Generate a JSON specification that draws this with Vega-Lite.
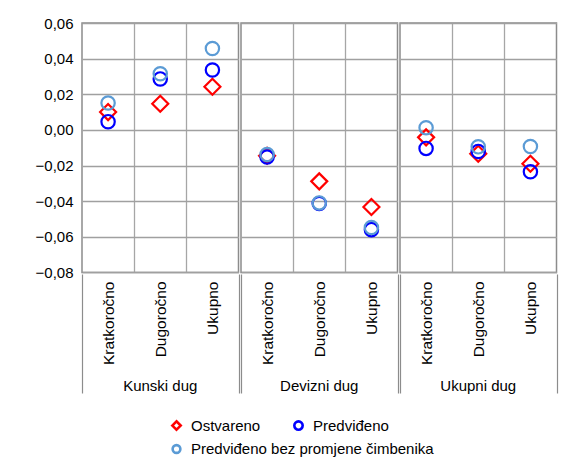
{
  "$schema": "https://vega.github.io/schema/vega-lite/v6.json",
  "padding": {"left": 35, "top": 16, "right": 5, "bottom": 5},
  "data": {
    "values": [
      {"group": "Kunski dug", "cat": "Kratkoročno", "series": "Ostvareno", "value": 0.010},
      {"group": "Kunski dug", "cat": "Dugoročno", "series": "Ostvareno", "value": 0.0147},
      {"group": "Kunski dug", "cat": "Ukupno", "series": "Ostvareno", "value": 0.0242},
      {"group": "Devizni dug", "cat": "Kratkoročno", "series": "Ostvareno", "value": -0.0145},
      {"group": "Devizni dug", "cat": "Dugoročno", "series": "Ostvareno", "value": -0.0289},
      {"group": "Devizni dug", "cat": "Ukupno", "series": "Ostvareno", "value": -0.0433},
      {"group": "Ukupni dug", "cat": "Kratkoročno", "series": "Ostvareno", "value": -0.0042},
      {"group": "Ukupni dug", "cat": "Dugoročno", "series": "Ostvareno", "value": -0.0134},
      {"group": "Ukupni dug", "cat": "Ukupno", "series": "Ostvareno", "value": -0.019},
      {"group": "Kunski dug", "cat": "Kratkoročno", "series": "Predviđeno", "value": 0.0046},
      {"group": "Kunski dug", "cat": "Dugoročno", "series": "Predviđeno", "value": 0.0286},
      {"group": "Kunski dug", "cat": "Ukupno", "series": "Predviđeno", "value": 0.0336},
      {"group": "Devizni dug", "cat": "Kratkoročno", "series": "Predviđeno", "value": -0.0152},
      {"group": "Devizni dug", "cat": "Dugoročno", "series": "Predviđeno", "value": -0.0413},
      {"group": "Devizni dug", "cat": "Ukupno", "series": "Predviđeno", "value": -0.056},
      {"group": "Ukupni dug", "cat": "Kratkoročno", "series": "Predviđeno", "value": -0.0104},
      {"group": "Ukupni dug", "cat": "Dugoročno", "series": "Predviđeno", "value": -0.0121},
      {"group": "Ukupni dug", "cat": "Ukupno", "series": "Predviđeno", "value": -0.0235},
      {"group": "Kunski dug", "cat": "Kratkoročno", "series": "Predviđeno bez promjene čimbenika", "value": 0.0151},
      {"group": "Kunski dug", "cat": "Dugoročno", "series": "Predviđeno bez promjene čimbenika", "value": 0.0315},
      {"group": "Kunski dug", "cat": "Ukupno", "series": "Predviđeno bez promjene čimbenika", "value": 0.0457},
      {"group": "Devizni dug", "cat": "Kratkoročno", "series": "Predviđeno bez promjene čimbenika", "value": -0.0138},
      {"group": "Devizni dug", "cat": "Dugoročno", "series": "Predviđeno bez promjene čimbenika", "value": -0.041},
      {"group": "Devizni dug", "cat": "Ukupno", "series": "Predviđeno bez promjene čimbenika", "value": -0.0548},
      {"group": "Ukupni dug", "cat": "Kratkoročno", "series": "Predviđeno bez promjene čimbenika", "value": 0.0012},
      {"group": "Ukupni dug", "cat": "Dugoročno", "series": "Predviđeno bez promjene čimbenika", "value": -0.0095},
      {"group": "Ukupni dug", "cat": "Ukupno", "series": "Predviđeno bez promjene čimbenika", "value": -0.0093}
    ]
  },
  "facet": {
    "column": {
      "field": "group",
      "type": "nominal",
      "sort": ["Kunski dug", "Devizni dug", "Ukupni dug"],
      "header": {
        "title": null,
        "labelOrient": "bottom",
        "labelFontSize": 15,
        "labelFont": "Liberation Sans",
        "labelColor": "#000000",
        "labelPadding": -15
      }
    }
  },
  "spacing": 0,
  "spec": {
    "width": 156.5,
    "height": 249.4,
    "encoding": {
      "x": {
        "field": "cat",
        "type": "nominal",
        "sort": ["Kratkoročno", "Dugoročno", "Ukupno"],
        "scale": {"paddingInner": 0, "paddingOuter": 0},
        "axis": {
          "title": null,
          "labelAngle": -90,
          "labelAlign": "right",
          "labelBaseline": "middle",
          "labelPadding": -112,
          "labelFontSize": 15.5,
          "labelFont": "Liberation Sans",
          "labelColor": "#000000",
          "domain": false,
          "ticks": true,
          "tickSize": 119,
          "tickBand": "extent",
          "tickColor": "#8c8c8c",
          "tickWidth": 1.2,
          "tickOpacity": {"condition": {"test": "datum.value === 'Kratkoročno' || datum.value === 'Dugoročno'", "value": 0}, "value": 1},
          "grid": true,
          "gridColor": "#a6a6a6",
          "gridWidth": 1.3,
          "gridOpacity": {"condition": {"test": "datum.value === 'Kratkoročno' || datum.value === 'Dugoročno'", "value": 1}, "value": 0}
        }
      },
      "y": {
        "field": "value",
        "type": "quantitative",
        "scale": {"domain": [-0.08, 0.06], "nice": false, "zero": false},
        "axis": {
          "title": null,
          "values": [-0.08, -0.06, -0.04, -0.02, 0, 0.02, 0.04, 0.06],
          "format": ".2f",
          "labelFontSize": 15,
          "labelFont": "Liberation Sans",
          "labelColor": "#000000",
          "labelPadding": 8,
          "ticks": false,
          "domain": false,
          "grid": true,
          "gridColor": "#a0a0a0",
          "gridWidth": 1.5
        }
      },
      "color": {
        "field": "series",
        "type": "nominal",
        "title": null,
        "scale": {
          "domain": ["Ostvareno", "Predviđeno", "Predviđeno bez promjene čimbenika"],
          "range": ["#ff0000", "#0000ff", "#5b9bd5"]
        },
        "legend": {
          "orient": "none",
          "legendX": 87,
          "legendY": 395,
          "direction": "horizontal",
          "values": ["Ostvareno", "Predviđeno"],
          "title": null,
          "symbolSize": 70
        }
      },
      "shape": {
        "field": "series",
        "type": "nominal",
        "title": null,
        "scale": {
          "domain": ["Ostvareno", "Predviđeno", "Predviđeno bez promjene čimbenika"],
          "range": ["diamond", "circle", "circle"]
        },
        "legend": {
          "orient": "none",
          "legendX": 87,
          "legendY": 395,
          "direction": "horizontal",
          "values": ["Ostvareno", "Predviđeno"],
          "title": null,
          "symbolSize": 70
        }
      },
      "opacity": {
        "field": "series",
        "type": "nominal",
        "title": null,
        "scale": {
          "domain": ["Predviđeno bez promjene čimbenika", "Ostvareno", "Predviđeno"],
          "range": [1, 1, 1]
        },
        "legend": {
          "orient": "none",
          "legendX": 87,
          "legendY": 418.5,
          "direction": "horizontal",
          "values": ["Predviđeno bez promjene čimbenika"],
          "title": null,
          "symbolType": "circle",
          "symbolSize": 60,
          "symbolStrokeColor": "#5b9bd5",
          "encode": {"symbols": {"update": {"stroke": {"value": "#5b9bd5"}}}}
        }
      }
    },
    "layer": [
      {
        "transform": [{"filter": "datum.series === 'Ostvareno'"}],
        "mark": {"type": "point", "filled": false, "strokeWidth": 2.2, "opacity": 1, "size": 256, "color": "#5b9bd5"}
      },
      {
        "transform": [{"filter": "datum.series !== 'Ostvareno'"}],
        "mark": {"type": "point", "filled": false, "strokeWidth": 2.2, "opacity": 1, "size": 178, "color": "#5b9bd5"}
      }
    ]
  },
  "config": {
    "locale": {"number": {"decimal": ",", "thousands": ".", "grouping": [3], "currency": ["", ""], "minus": "−"}},
    "font": "Liberation Sans",
    "view": {"stroke": "#8c8c8c", "strokeWidth": 1.5},
    "legend": {
      "labelFontSize": 15,
      "labelFont": "Liberation Sans",
      "labelColor": "#000000",
      "symbolSize": 70,
      "symbolStrokeWidth": 2.6,
      "labelOffset": 7,
      "columnPadding": 28,
      "rowPadding": 6,
      "labelLimit": 400
    }
  }
}
